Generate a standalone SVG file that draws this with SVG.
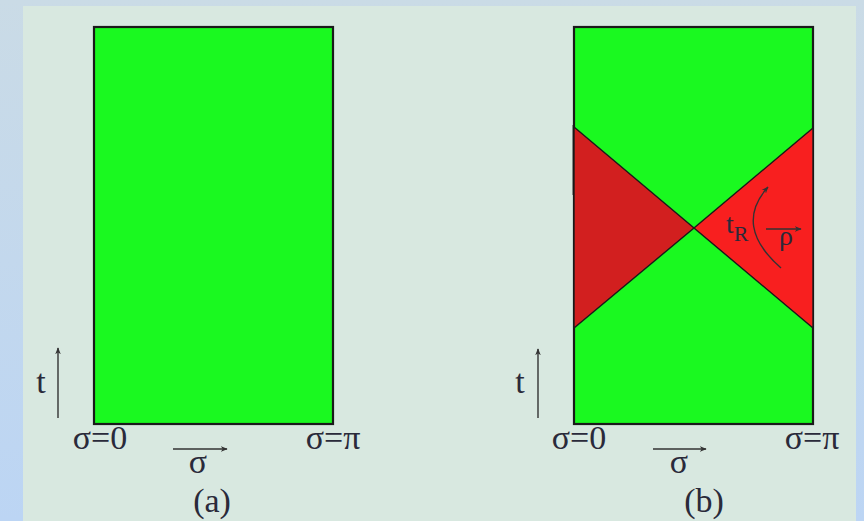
<svg xmlns="http://www.w3.org/2000/svg" width="864" height="521" viewBox="0 0 864 521">
<defs>
<linearGradient id="bg" x1="0" y1="0" x2="0" y2="1">
<stop offset="0" stop-color="#cadbe6"/>
<stop offset="1" stop-color="#bcd5f4"/>
</linearGradient>
<marker id="ah" viewBox="0 0 10 10" refX="9" refY="5" markerWidth="7" markerHeight="7" orient="auto" markerUnits="userSpaceOnUse">
<path d="M0,1 L10,5 L0,9 L3,5 Z" fill="#333"/>
</marker>
</defs>
<style>
text{font-family:"Liberation Serif","Times New Roman",serif;fill:#2a2a3a;font-size:34px;}
.sm{font-size:28px;}
.sub{font-size:22px;}
.box{fill:#1af920;stroke:#1a1a1a;stroke-width:2.2;}
.ax{stroke:#333;stroke-width:1.4;fill:none;marker-end:url(#ah);}
.edge{stroke:#1a1a1a;stroke-width:1.4;}
</style>
<rect x="0" y="0" width="864" height="521" fill="url(#bg)"/>
<rect x="23" y="6" width="833" height="515" fill="#d8e8e0"/>

<g id="panel-a">
<rect class="box" x="94" y="27" width="239" height="397"/>
<text x="100" y="449" text-anchor="middle">σ=0</text>
<text x="333" y="449" text-anchor="middle">σ=π</text>
<text x="41" y="393" text-anchor="middle">t</text>
<text x="198" y="473" text-anchor="middle">σ</text>
<text x="212" y="512" text-anchor="middle">(a)</text>
</g>

<g id="panel-b">
<rect class="box" x="574" y="27" width="239" height="397"/>
<polygon class="edge" points="574,127 574,328 694,228" fill="#d21f1f"/>
<polygon class="edge" points="813,128 813,328 694,228" fill="#f81f1f"/>
<line x1="572.5" y1="125" x2="572.5" y2="195" stroke="#555" stroke-width="1" opacity="0.6"/>
<text x="579" y="449" text-anchor="middle">σ=0</text>
<text x="812" y="449" text-anchor="middle">σ=π</text>
<text x="520" y="393" text-anchor="middle">t</text>
<text x="679" y="473" text-anchor="middle">σ</text>
<text x="704" y="512" text-anchor="middle">(b)</text>
<text class="sm" x="726" y="233">t<tspan class="sub" dy="8">R</tspan></text>
<text class="sm" x="786" y="245" text-anchor="middle">ρ</text>
</g>

<g id="connectors">
<line class="ax" x1="58" y1="418" x2="58" y2="348"/>
<line class="ax" x1="173" y1="449" x2="227" y2="449"/>
<line class="ax" x1="538" y1="418" x2="538" y2="349"/>
<line class="ax" x1="653" y1="449" x2="706" y2="449"/>
<line class="ax" x1="766" y1="229" x2="801" y2="229"/>
<path class="ax" d="M781,268 Q733,226 768,187"/>
</g>
</svg>
